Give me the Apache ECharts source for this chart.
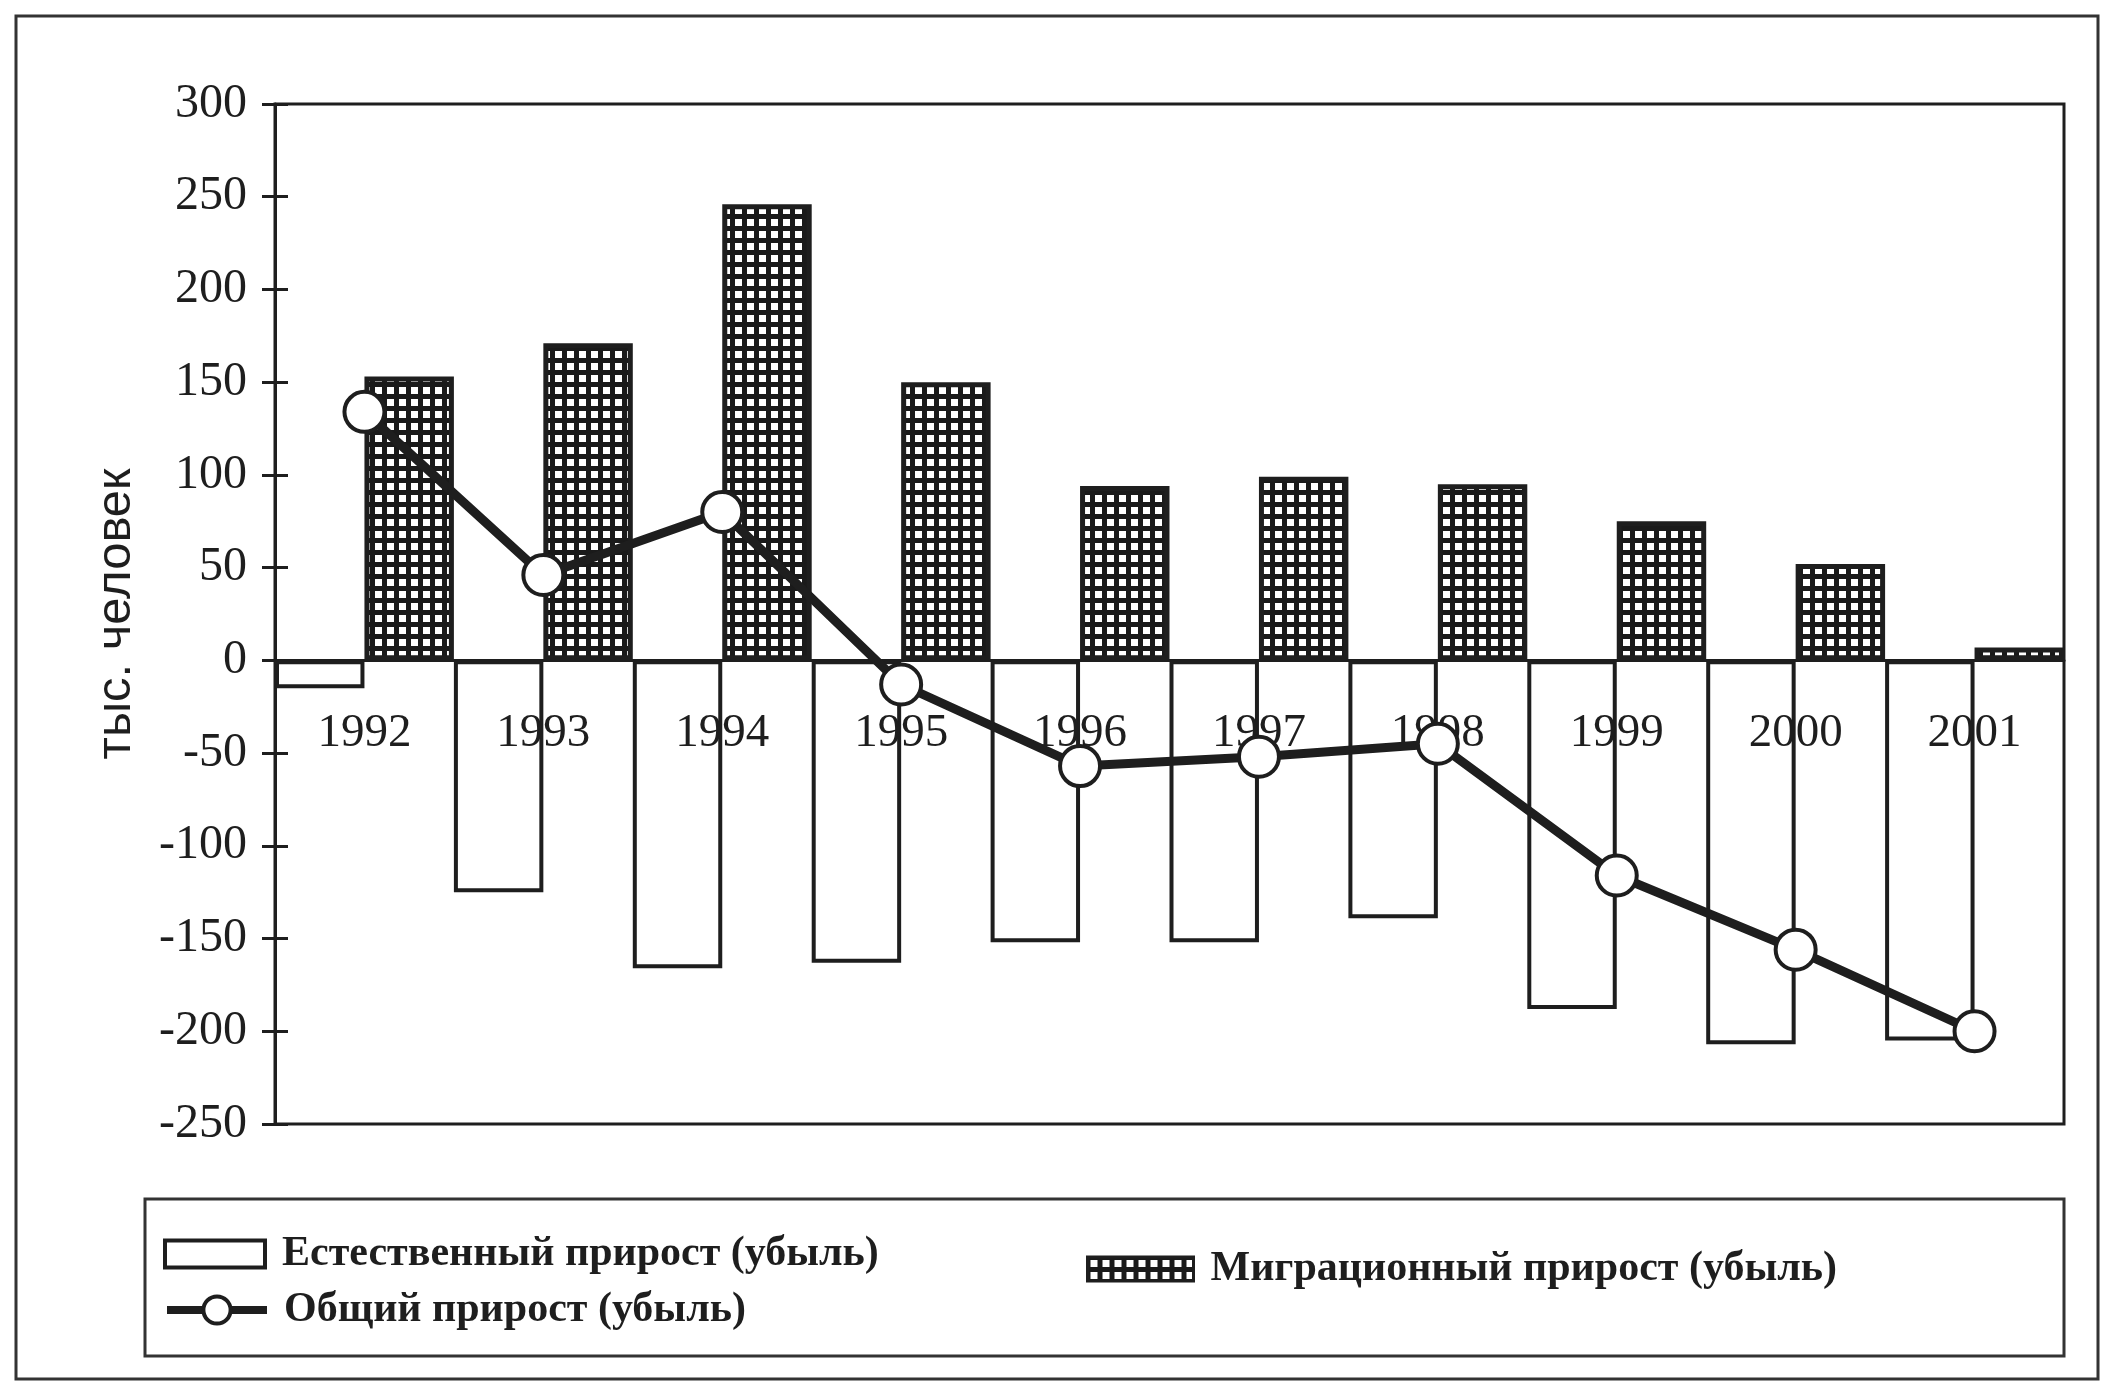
<!DOCTYPE html>
<html>
<head>
<meta charset="utf-8">
<script src="https://cdn.jsdelivr.net/npm/echarts@6/dist/echarts.min.js"></script>
<style>
  html, body { margin: 0; padding: 0; background: #fff; }
  #chart { width: 2106px; height: 1385px; }
</style>
</head>
<body>
<div id="chart"></div>
<script>
const years = ['1992', '1993', '1994', '1995', '1996', '1997', '1998', '1999', '2000', '2001'];
const naturalGrowth = [-15, -125, -166, -163, -152, -152, -139, -188, -207, -205];
const migrationGrowth = [153, 171, 246, 150, 94, 99, 95, 75, 52, 7];
const totalGrowth = [134, 46, 80, -13, -57, -52, -45, -116, -156, -200];
const yMin = -250;
const yMax = 300;
const yStep = 50;

const seriesNames = [
    'Естественный прирост (убыль)',
    'Миграционный прирост (убыль)',
    'Общий прирост (убыль)'
];

// grid-like hatch for the migration bars
function makeHatch() {
    const c = document.createElement('canvas');
    c.width = 12;
    c.height = 12;
    const ctx = c.getContext('2d');
    ctx.fillStyle = '#1a1a1a';
    ctx.fillRect(0, 0, 12, 12);
    ctx.fillStyle = '#ffffff';
    ctx.fillRect(3, 3, 7, 7);
    return c;
}
const hatch = { image: makeHatch(), repeat: 'repeat' };

const ink = '#1e1e1e';
const serif = '"Liberation Serif", "Times New Roman", serif';

// plot box in pixels; used to drop the year labels just under the zero line
const gridTop = 104;
const gridBottomPx = 1124;
const zeroPx = gridTop + (yMax / (yMax - yMin)) * (gridBottomPx - gridTop);

const chart = echarts.init(document.getElementById('chart'));

const legendText = {
    fontFamily: serif,
    fontWeight: 'bold',
    fontSize: 42,
    color: ink,
    padding: [0, 0, 0, 12]
};

chart.setOption({
    backgroundColor: '#fff',
    animation: false,
    graphic: [
        {
            type: 'rect',
            shape: { x: 16, y: 16, width: 2082, height: 1363 },
            style: { fill: 'none', stroke: '#333', lineWidth: 3 }
        },
        {
            type: 'rect',
            shape: { x: 145, y: 1199, width: 1919, height: 157 },
            style: { fill: 'none', stroke: '#333', lineWidth: 3 }
        }
    ],
    grid: {
        left: 275,
        right: 42,
        top: gridTop,
        bottom: 1385 - gridBottomPx,
        show: true,
        borderColor: ink,
        borderWidth: 3,
        backgroundColor: 'transparent'
    },
    legend: [
        {
            data: [{ name: seriesNames[0], icon: 'rect' }],
            left: 158, top: 1228,
            itemWidth: 100, itemHeight: 27,
            itemStyle: { borderWidth: 4 },
            textStyle: legendText
        },
        {
            data: [{ name: seriesNames[1], icon: 'rect' }],
            left: 1081, top: 1243,
            itemWidth: 106, itemHeight: 24,
            itemStyle: { borderWidth: 3 },
            textStyle: legendText
        },
        {
            data: [seriesNames[2]],
            left: 158, top: 1284,
            itemWidth: 100, itemHeight: 34,
            lineStyle: { width: 8, color: ink },
            itemStyle: { borderWidth: 4 },
            textStyle: legendText
        }
    ],
    xAxis: {
        type: 'category',
        data: years,
        z: 5,
        axisLine: { onZero: true, lineStyle: { color: ink, width: 3 } },
        axisTick: { show: false },
        axisLabel: {
            margin: 50 - (gridBottomPx - zeroPx),
            fontFamily: serif,
            fontSize: 47,
            color: ink
        },
        splitLine: { show: false }
    },
    yAxis: [
        {
            type: 'value',
            min: yMin,
            max: yMax,
            interval: yStep,
            name: 'тыс. человек',
            nameLocation: 'middle',
            nameGap: 134,
            nameRotate: 90,
            nameTextStyle: {
                fontFamily: '"Liberation Sans", Arial, sans-serif',
                fontSize: 49,
                color: ink
            },
            axisLine: { show: true, lineStyle: { color: ink, width: 3 } },
            axisTick: { show: true, length: 13, lineStyle: { color: ink, width: 3 } },
            axisLabel: {
                margin: 28,
                fontFamily: serif,
                fontSize: 48,
                color: ink
            },
            splitLine: { show: false }
        },
        {
            type: 'value',
            position: 'left',
            min: yMin,
            max: yMax,
            interval: yStep,
            axisLine: { show: false },
            axisTick: { show: true, inside: true, length: 13, lineStyle: { color: ink, width: 3 } },
            axisLabel: { show: false },
            splitLine: { show: false }
        }
    ],
    series: [
        {
            name: seriesNames[0],
            type: 'bar',
            data: naturalGrowth,
            barGap: '0%',
            barCategoryGap: '0%',
            itemStyle: { color: '#fff', borderColor: ink, borderWidth: 4 }
        },
        {
            name: seriesNames[1],
            type: 'bar',
            data: migrationGrowth,
            barGap: '0%',
            barCategoryGap: '0%',
            itemStyle: { color: hatch, borderColor: ink, borderWidth: 5 }
        },
        {
            name: seriesNames[2],
            type: 'line',
            data: totalGrowth,
            z: 10,
            symbol: 'circle',
            symbolSize: 40,
            lineStyle: { color: ink, width: 9 },
            itemStyle: { color: '#fff', borderColor: ink, borderWidth: 4 }
        }
    ]
});
</script>
</body>
</html>
